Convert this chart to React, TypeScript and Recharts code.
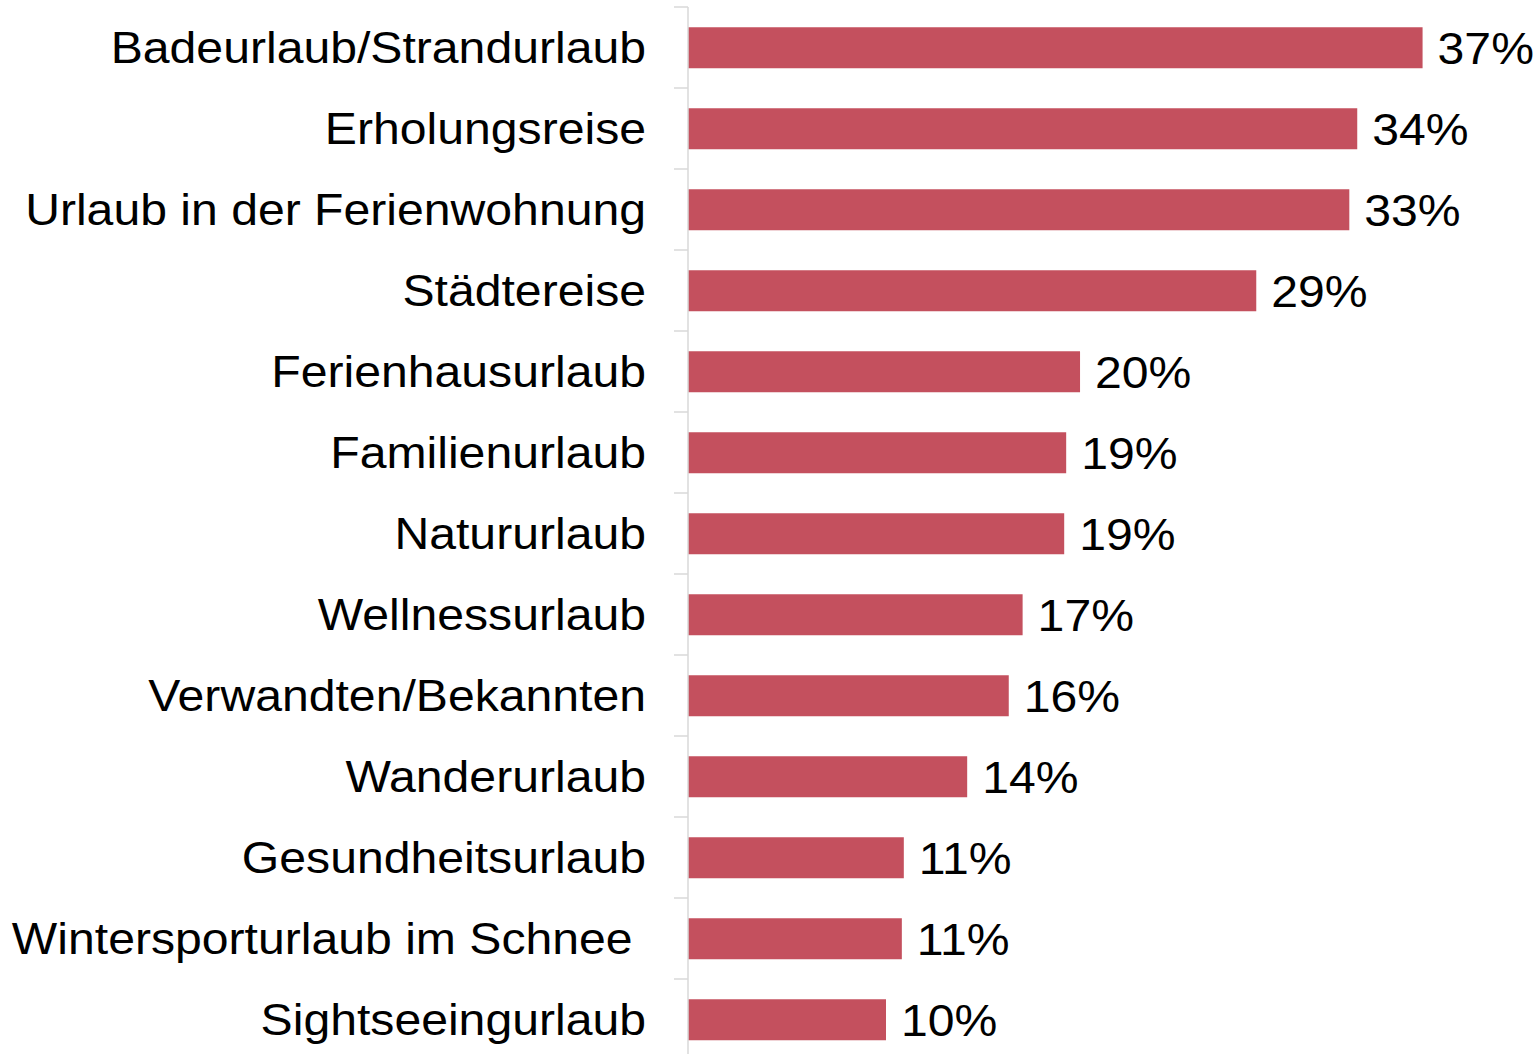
import { BarChart, Bar, XAxis, YAxis, LabelList } from "recharts";

const categories = [
  "Badeurlaub/Strandurlaub",
  "Erholungsreise",
  "Urlaub in der Ferienwohnung",
  "Städtereise",
  "Ferienhausurlaub",
  "Familienurlaub",
  "Natururlaub",
  "Wellnessurlaub",
  "Verwandten/Bekannten",
  "Wanderurlaub",
  "Gesundheitsurlaub",
  "Wintersporturlaub im Schnee ",
  "Sightseeingurlaub",
];

const shares = [37.1, 33.8, 33.4, 28.7, 19.8, 19.1, 19.0, 16.9, 16.2, 14.1, 10.9, 10.8, 10.0];

const valueLabels = ["37%", "34%", "33%", "29%", "20%", "19%", "19%", "17%", "16%", "14%", "11%", "11%", "10%"];

const data = categories.map((name, i) => ({ name, share: shares[i], label: valueLabels[i] }));

const BAR_COLOR = "#C4505E";
const AXIS_COLOR = "#D9D9D9";
const FONT = "'Liberation Sans', Arial, sans-serif";
const CHART_H = 1060;
const TOP = 7;
const BAND = (CHART_H - TOP) / categories.length;

const CategoryTick = (props: any) => {
  const { x, y, payload } = props;
  return (
    <g>
      <line x1={x - 14} x2={x} y1={y - BAND / 2} y2={y - BAND / 2} stroke={AXIS_COLOR} strokeWidth={1.5} />
      <g transform={`translate(${x - 42}, ${y + 15}) scale(1.07, 1)`}>
        <text x={0} y={0} textAnchor="end" fill="#000" fontSize={45} fontFamily={FONT} style={{ whiteSpace: "pre" }}>
          {payload.value}
        </text>
      </g>
    </g>
  );
};

const ValueLabel = (props: any) => {
  const { x, y, width, height, value } = props;
  return (
    <g transform={`translate(${x + width + 15}, ${y + height / 2 + 16}) scale(1.07, 1)`}>
      <text x={0} y={0} fill="#000" fontSize={45} fontFamily={FONT}>
        {value}
      </text>
    </g>
  );
};

export default function App() {
  return (
    <div style={{ position: "absolute", left: 0, top: 0, width: 1540, height: 1054, overflow: "hidden", background: "#fff" }}>
      <BarChart
        width={1540}
        height={CHART_H}
        data={data}
        layout="vertical"
        margin={{ top: TOP, right: 60, left: 0, bottom: 0 }}
        barCategoryGap="25%"
      >
        <XAxis type="number" domain={[0, 40]} hide />
        <YAxis
          type="category"
          dataKey="name"
          width={688}
          axisLine={{ stroke: AXIS_COLOR, strokeWidth: 1.5 }}
          tickLine={false}
          tickSize={0}
          tickMargin={0}
          interval={0}
          tick={<CategoryTick />}
        />
        <Bar dataKey="share" fill={BAR_COLOR} isAnimationActive={false}>
          <LabelList dataKey="label" content={<ValueLabel />} />
        </Bar>
      </BarChart>
    </div>
  );
}
